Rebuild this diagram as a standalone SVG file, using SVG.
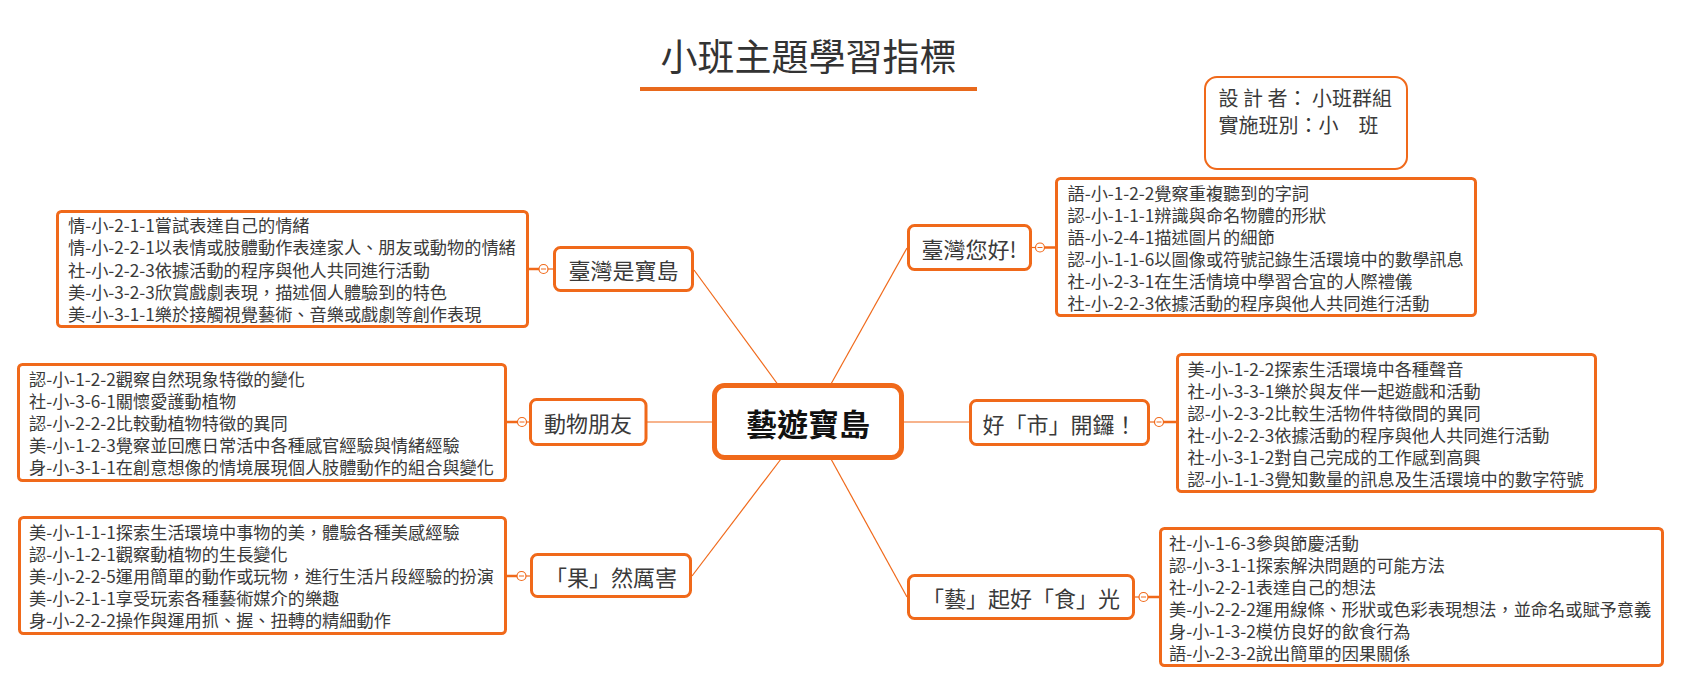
<svg xmlns="http://www.w3.org/2000/svg" width="1682" height="685" viewBox="0 0 1682 685">
<style>
text{font-family:"Microsoft JhengHei","Noto Sans CJK TC","Noto Sans CJK SC",sans-serif;dominant-baseline:central;}
.box{fill:#fff;stroke:#F0691A;stroke-width:3;}
.topic{fill:#fff;stroke:#F0691A;stroke-width:3;}
.center{fill:#fff;stroke:#F0691A;stroke-width:5;}
.info{fill:#fff;stroke:#F0691A;stroke-width:2;}
.ct{font-size:17.2px;fill:#3a3a3a;}
.tt{font-size:22px;fill:#3a3a3a;text-anchor:middle;}
.link{stroke:#F0691A;stroke-width:1.2;fill:none;}
.sub{stroke:#F0691A;stroke-width:2.5;fill:none;}
.knob{fill:#fff;stroke:#F0691A;stroke-width:1.2;}
.minus{stroke:#F0691A;stroke-width:1;}
</style>
<defs>
<g id="kn"><circle class="knob" r="4.5"/><line class="minus" x1="-2.5" y1="0" x2="2.5" y2="0"/></g>
</defs>

<g id="title">
<text x="808.5" y="55" style="font-size:37px;fill:#333;text-anchor:middle">小班主題學習指標</text>
<rect x="640" y="87" width="337" height="4" fill="#E8691C"/>
</g>

<g id="connectors">
<line class="link" x1="694" y1="270" x2="777.5" y2="384"/>
<line class="link" x1="907" y1="248" x2="831" y2="384"/>
<line class="link" x1="692" y1="576" x2="781" y2="459"/>
<line class="link" x1="907" y1="597" x2="831" y2="459"/>
<line class="link" x1="647" y1="422" x2="713" y2="422"/>
<line class="link" x1="903" y1="422" x2="970" y2="422"/>
<line class="sub" x1="528" y1="269" x2="539" y2="269"/>
<line class="link" x1="548" y1="269" x2="554" y2="269"/>
<line class="sub" x1="506" y1="422" x2="517.5" y2="422"/>
<line class="link" x1="526.5" y1="422" x2="530" y2="422"/>
<line class="sub" x1="506" y1="576" x2="517" y2="576"/>
<line class="link" x1="526" y1="576" x2="531" y2="576"/>
<line class="link" x1="1031" y1="247.5" x2="1035.5" y2="247.5"/>
<line class="sub" x1="1044.5" y1="247.5" x2="1056" y2="247.5"/>
<line class="link" x1="1149" y1="422" x2="1154.5" y2="422"/>
<line class="sub" x1="1163.5" y1="422" x2="1177" y2="422"/>
<line class="link" x1="1134" y1="597" x2="1139" y2="597"/>
<line class="sub" x1="1148" y1="597" x2="1160" y2="597"/>
<use href="#kn" x="543.5" y="269"/>
<use href="#kn" x="522" y="422"/>
<use href="#kn" x="521.5" y="576"/>
<use href="#kn" x="1040" y="247.5"/>
<use href="#kn" x="1159" y="422"/>
<use href="#kn" x="1143.5" y="597"/>
</g>

<g id="center-node">
<rect class="center" x="714.5" y="385.5" width="187" height="72" rx="10"/>
<text x="808" y="422" style="font-size:31px;font-weight:bold;fill:#111;text-anchor:middle">藝遊寶島</text>
</g>

<g id="info">
<rect class="info" x="1205" y="77" width="202" height="92" rx="12"/>
<text class="ct" x="1218.5" y="97.5" style="font-size:20px">設 計 者： 小班群組</text>
<text class="ct" x="1218.5" y="124" style="font-size:20px">實施班別：小　班</text>
</g>

<g id="topic-taiwan-treasure">
<rect class="topic" x="554.5" y="247.5" width="138" height="43" rx="6"/>
<text class="tt" x="623.5" y="269">臺灣是寶島</text>
</g>
<g id="detail-taiwan-treasure">
<rect class="box" x="57.5" y="211.5" width="470" height="115" rx="4"/>
<text class="ct" x="68" y="224.6">情-小-2-1-1嘗試表達自己的情緒</text>
<text class="ct" x="68" y="246.8">情-小-2-2-1以表情或肢體動作表達家人、朋友或動物的情緒</text>
<text class="ct" x="68" y="269">社-小-2-2-3依據活動的程序與他人共同進行活動</text>
<text class="ct" x="68" y="291.2">美-小-3-2-3欣賞戲劇表現，描述個人體驗到的特色</text>
<text class="ct" x="68" y="313.4">美-小-3-1-1樂於接觸視覺藝術、音樂或戲劇等創作表現</text>
</g>

<g id="topic-animal">
<rect class="topic" x="530.5" y="399.5" width="115.5" height="45" rx="6"/>
<text class="tt" x="588" y="422">動物朋友</text>
</g>
<g id="detail-animal">
<rect class="box" x="18.5" y="364.5" width="487" height="116" rx="4"/>
<text class="ct" x="29" y="378.1">認-小-1-2-2觀察自然現象特徵的變化</text>
<text class="ct" x="29" y="400.3">社-小-3-6-1關懷愛護動植物</text>
<text class="ct" x="29" y="422.5">認-小-2-2-2比較動植物特徵的異同</text>
<text class="ct" x="29" y="444.7">美-小-1-2-3覺察並回應日常活中各種感官經驗與情緒經驗</text>
<text class="ct" x="29" y="466.9">身-小-3-1-1在創意想像的情境展現個人肢體動作的組合與變化</text>
</g>

<g id="topic-fruit">
<rect class="topic" x="531.5" y="554.5" width="159" height="42" rx="6"/>
<text class="tt" x="611" y="575.5">「果」然厲害</text>
</g>
<g id="detail-fruit">
<rect class="box" x="19.5" y="517.5" width="486" height="116" rx="4"/>
<text class="ct" x="29" y="531.1">美-小-1-1-1探索生活環境中事物的美，體驗各種美感經驗</text>
<text class="ct" x="29" y="553.3">認-小-1-2-1觀察動植物的生長變化</text>
<text class="ct" x="29" y="575.5">美-小-2-2-5運用簡單的動作或玩物，進行生活片段經驗的扮演</text>
<text class="ct" x="29" y="597.7">美-小-2-1-1享受玩索各種藝術媒介的樂趣</text>
<text class="ct" x="29" y="619.9">身-小-2-2-2操作與運用抓、握、扭轉的精細動作</text>
</g>

<g id="topic-hello">
<rect class="topic" x="908.5" y="225.5" width="122" height="44" rx="6"/>
<text class="tt" x="969" y="247.5">臺灣您好!</text>
</g>
<g id="detail-hello">
<rect class="box" x="1056.5" y="178.5" width="419" height="137" rx="4"/>
<text class="ct" x="1067.5" y="192">語-小-1-2-2覺察重複聽到的字詞</text>
<text class="ct" x="1067.5" y="214">認-小-1-1-1辨識與命名物體的形狀</text>
<text class="ct" x="1067.5" y="236">語-小-2-4-1描述圖片的細節</text>
<text class="ct" x="1067.5" y="258">認-小-1-1-6以圖像或符號記錄生活環境中的數學訊息</text>
<text class="ct" x="1067.5" y="280">社-小-2-3-1在生活情境中學習合宜的人際禮儀</text>
<text class="ct" x="1067.5" y="302">社-小-2-2-3依據活動的程序與他人共同進行活動</text>
</g>

<g id="topic-market">
<rect class="topic" x="970.5" y="400.5" width="178" height="44" rx="6"/>
<text class="tt" x="1059.5" y="422.5">好「市」開鑼！</text>
</g>
<g id="detail-market">
<rect class="box" x="1177.5" y="354.5" width="418" height="137" rx="4"/>
<text class="ct" x="1187.5" y="368">美-小-1-2-2探索生活環境中各種聲音</text>
<text class="ct" x="1187.5" y="390">社-小-3-3-1樂於與友伴一起遊戲和活動</text>
<text class="ct" x="1187.5" y="412">認-小-2-3-2比較生活物件特徵間的異同</text>
<text class="ct" x="1187.5" y="434">社-小-2-2-3依據活動的程序與他人共同進行活動</text>
<text class="ct" x="1187.5" y="456">社-小-3-1-2對自己完成的工作感到高興</text>
<text class="ct" x="1187.5" y="478">認-小-1-1-3覺知數量的訊息及生活環境中的數字符號</text>
</g>

<g id="topic-food">
<rect class="topic" x="908.5" y="575.5" width="225" height="43" rx="6"/>
<text class="tt" x="1021" y="597">「藝」起好「食」光</text>
</g>
<g id="detail-food">
<rect class="box" x="1160.5" y="528.5" width="502" height="137" rx="4"/>
<text class="ct" x="1169" y="542">社-小-1-6-3參與節慶活動</text>
<text class="ct" x="1169" y="564">認-小-3-1-1探索解決問題的可能方法</text>
<text class="ct" x="1169" y="586">社-小-2-2-1表達自己的想法</text>
<text class="ct" x="1169" y="608">美-小-2-2-2運用線條、形狀或色彩表現想法，並命名或賦予意義</text>
<text class="ct" x="1169" y="630">身-小-1-3-2模仿良好的飲食行為</text>
<text class="ct" x="1169" y="652">語-小-2-3-2說出簡單的因果關係</text>
</g>
</svg>
